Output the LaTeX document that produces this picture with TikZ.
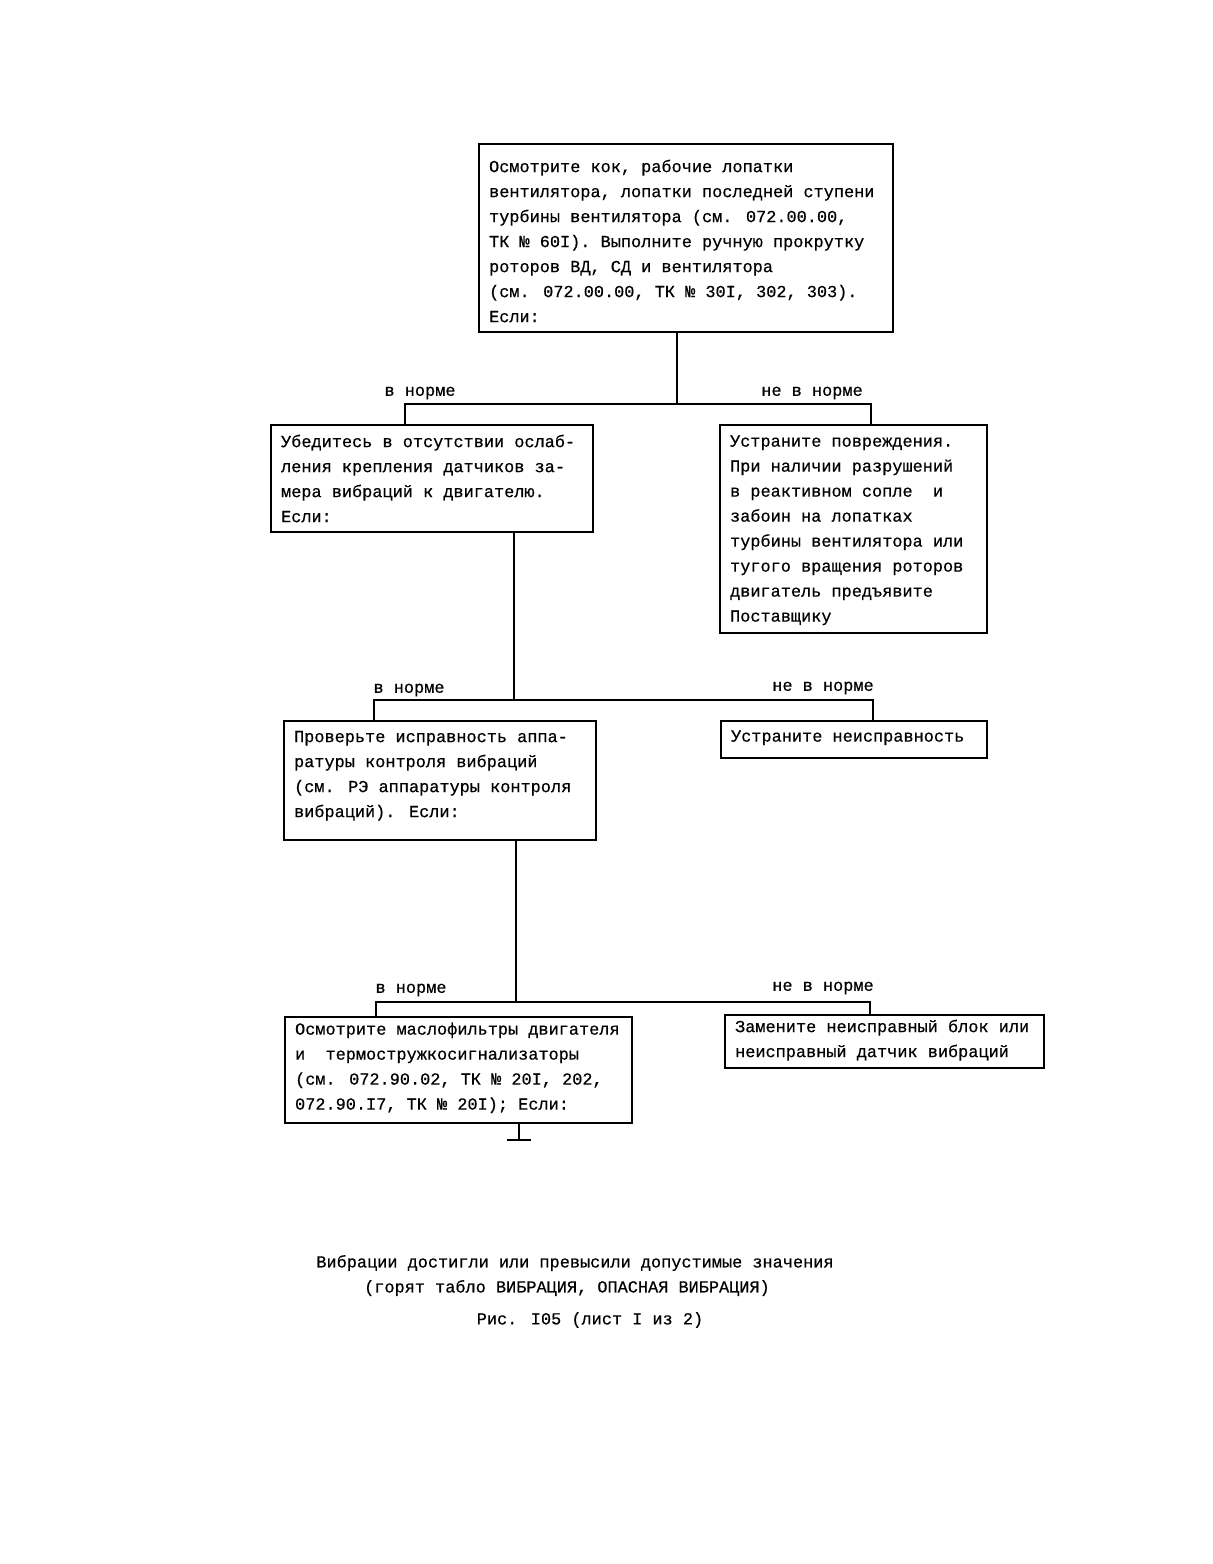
\documentclass[tikz,border=0pt]{standalone}
\usepackage{fontspec}
\setmainfont{Liberation Mono}[FakeBold=0.5]
\newcommand\boxtext[3][0pt]{\raisebox{#1}[\height][\depth]{\makebox[#2][l]{\begin{tabular}{@{}l@{}}#3\end{tabular}}}}
\begin{document}
\begin{tikzpicture}[x=0.5pt,y=-0.5pt,
  every node/.style={font=\fontsize{8.45}{12.5}\selectfont},
  box/.style={draw, line width=1.1pt, anchor=north west, inner xsep=5pt, inner ysep=0pt},
  conn/.style={line width=1.1pt},
  lbl/.style={inner sep=0pt}]
\useasboundingbox (0,0) rectangle (1212,1564);
% boxes
\node[box, minimum width=207pt, minimum height=94pt] (b1) at (478,143)
 {\boxtext[-2pt]{197pt}{Осмотрите кок, рабочие лопатки\\вентилятора, лопатки последней ступени\\турбины вентилятора (см. 072.00.00,\\ТК № 60I). Выполните ручную прокрутку\\роторов ВД, СД и вентилятора\\(см. 072.00.00, ТК № 30I, 302, 303).\\Если:}};
\node[box, minimum width=161pt, minimum height=53.5pt] (b2) at (270,424)
 {\boxtext[-0.5pt]{151pt}{Убедитесь в отсутствии ослаб-\\ления крепления датчиков за-\\мера вибраций к двигателю.\\Если:}};
\node[box, minimum width=133.5pt, minimum height=104pt] (b3) at (719,424)
 {\boxtext{123.5pt}{Устраните повреждения.\\При наличии разрушений\\в реактивном сопле~ и\\забоин на лопатках\\турбины вентилятора или\\тугого вращения роторов\\двигатель предъявите\\Поставщику}};
\node[box, minimum width=156pt, minimum height=59.5pt] (b4) at (283,720)
 {\boxtext[0.5pt]{146pt}{Проверьте исправность аппа-\\ратуры контроля вибраций\\(см. РЭ аппаратуры контроля\\вибраций). Если:\\[5pt]}};
\node[box, minimum width=133pt, minimum height=18.5pt] (b5) at (720,720)
 {\boxtext[1.5pt]{123pt}{Устраните неисправность}};
\node[box, minimum width=173.5pt, minimum height=53pt] (b6) at (284,1016)
 {\boxtext[0.5pt]{163.5pt}{Осмотрите маслофильтры двигателя\\и~ термостружкосигнализаторы\\(см. 072.90.02, ТК № 20I, 202,\\072.90.I7, ТК № 20I); Если:\\[2pt]}};
\node[box, minimum width=159.5pt, minimum height=26.5pt] (b7) at (724,1014)
 {\boxtext[1pt]{149.5pt}{Замените неисправный блок или\\неисправный датчик вибраций}};
% labels
\node[lbl] (l1) at (420,393) {в норме};
\node[lbl] (l2) at (812,393) {не в норме};
\node[lbl] (l3) at (409,690) {в норме};
\node[lbl] (l4) at (823,688) {не в норме};
\node[lbl] (l5) at (411,990) {в норме};
\node[lbl] (l6) at (823,988) {не в норме};
% junctions
\coordinate (j1) at (677,404);
\coordinate (j1l) at (405,404);
\coordinate (j1r) at (871,404);
\coordinate (j2) at (514,700);
\coordinate (j2l) at (374,700);
\coordinate (j2r) at (873,700);
\coordinate (j3) at (516,1002);
\coordinate (j3l) at (376,1002);
\coordinate (j3r) at (870,1002);
\coordinate (s6) at (519,1140);
% connectors
\draw[conn] (j1 |- b1.south) -- (j1);
\draw[conn] (j1l |- b2.north) -- (j1l) -- (j1r) -- (j1r |- b3.north);
\draw[conn] (j2 |- b2.south) -- (j2);
\draw[conn] (j2l |- b4.north) -- (j2l) -- (j2r) -- (j2r |- b5.north);
\draw[conn] (j3 |- b4.south) -- (j3);
\draw[conn] (j3l |- b6.north) -- (j3l) -- (j3r) -- (j3r |- b7.north);
\draw[conn] (s6 |- b6.south) -- (s6);
\draw[conn] ([xshift=-6]s6) -- ([xshift=6]s6);
% caption
\node[lbl] (c1) at (575,1263) {Вибрации достигли или превысили допустимые значения};
\node[lbl] (c2) at (567,1288) {(горят табло ВИБРАЦИЯ, ОПАСНАЯ ВИБРАЦИЯ)};
\node[lbl] (c3) at (590,1320) {Рис. I05 (лист I из 2)};
\end{tikzpicture}
\end{document}
